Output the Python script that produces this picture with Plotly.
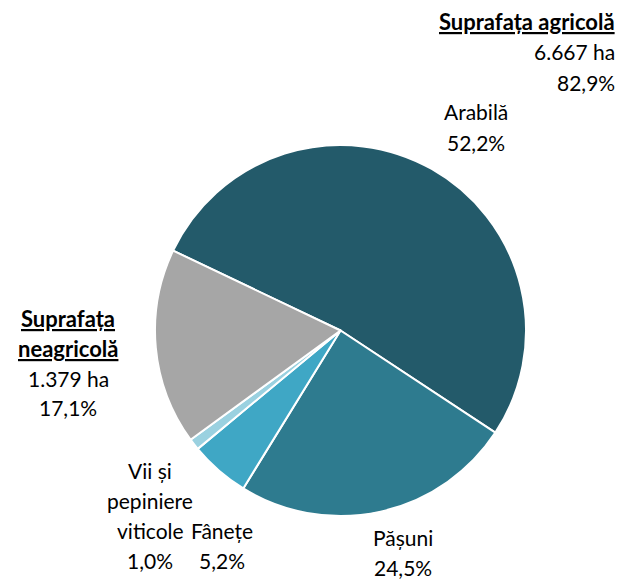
import plotly.graph_objects as go

categories = ["Arabilă", "Pășuni", "Fânețe", "Vii și<br>pepiniere<br>viticole", "Suprafața<br>neagricolă"]
shares = [52.2, 24.5, 5.2, 1.0, 17.1]
colors = ["#235a6a", "#2e7b8f", "#3fa7c5", "#9ad1e0", "#a6a6a6"]

group_names = ["Suprafața agricolă", "Suprafața neagricolă"]
group_ha = ["6.667", "1.379"]
group_share = [82.9, 17.1]

FONT = "Lato"
SIZE = 21
W, H = 621, 579


def fmt_pct(v):
    return f"{v:.1f}".replace(".", ",") + "%"


def add_lines(fig, lines, x, y0, anchor="center", step=30, size=SIZE):
    # one annotation per line so spacing can follow the reference
    for i, line in enumerate(lines):
        fig.add_annotation(
            x=x / W, y=1 - (y0 + i * step) / H,
            xref="paper", yref="paper",
            text=line, showarrow=False,
            xanchor=anchor, yanchor="middle",
            font=dict(family=FONT, size=size, color="#000000"),
        )


fig = go.Figure(go.Pie(
    labels=categories,
    values=shares,
    marker=dict(colors=colors, line=dict(color="white", width=2)),
    sort=False,
    direction="clockwise",
    rotation=-64.5,
    textinfo="none",
    hoverinfo="label+percent",
    showlegend=False,
    domain=dict(x=[155 / W, 526 / W], y=[1 - 517 / H, 1 - 144 / H]),
))

# agricultural group, top right
add_lines(fig, [f"<b><u>{group_names[0]}</u></b>"], 617, 22, anchor="right", size=22)
add_lines(fig, [f"{group_ha[0]} ha", fmt_pct(group_share[0])], 617, 52, anchor="right")
# non-agricultural group, left
add_lines(fig, ["<b><u>Suprafața</u></b>", "<b><u>neagricolă</u></b>"], 68, 318, size=22)
add_lines(fig, [f"{group_ha[1]} ha", fmt_pct(group_share[1])], 68, 378)

add_lines(fig, ["Arabilă", fmt_pct(shares[0])], 476, 112)
add_lines(fig, ["Pășuni", fmt_pct(shares[1])], 403, 537)
add_lines(fig, ["Fânețe", fmt_pct(shares[2])], 222, 530)
add_lines(fig, ["Vii și", "pepiniere", "viticole", fmt_pct(shares[3])], 150, 470)

fig.update_layout(
    width=W, height=H,
    margin=dict(l=0, r=0, t=0, b=0),
    paper_bgcolor="white",
    plot_bgcolor="white",
)

fig.write_html("out.html", config={"displayModeBar": False},
               post_script="document.body.style.margin='0';")
